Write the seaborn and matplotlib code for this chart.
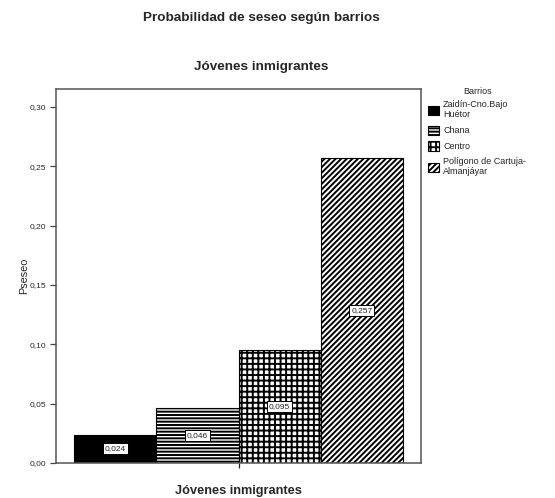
import matplotlib
matplotlib.use("Agg")
import matplotlib.pyplot as plt
from matplotlib.patches import Patch
from matplotlib.ticker import FixedLocator, FuncFormatter
import seaborn as sns
import pandas as pd

# Data
grupo = ["Jóvenes inmigrantes"] * 4
barrios = ["Zaidín-Cno.Bajo\nHuétor", "Chana", "Centro", "Polígono de Cartuja-\nAlmanjáyar"]
pseseo = [0.024, 0.046, 0.095, 0.257]
etiquetas = ["0,024", "0,046", "0,095", "0,257"]
y_ticks = [0.00, 0.05, 0.10, 0.15, 0.20, 0.25, 0.30]

fill_colors = ["black", "white", "white", "white"]
hatches = [None, "-----", "+++", "//////"]

sns.set_theme(style="white")
plt.rcParams["font.family"] = ["Liberation Sans", "DejaVu Sans"]
plt.rcParams["hatch.linewidth"] = 1.4
plt.rcParams["hatch.color"] = "black"

df = pd.DataFrame({"grupo": grupo, "Barrios": barrios, "Pseseo": pseseo})

fig = plt.figure(figsize=(5.55, 4.98), dpi=100)
ax = fig.add_axes([56 / 555, 1 - 463 / 498, (421 - 56) / 555, (463 - 89) / 498])

sns.barplot(data=df, x="grupo", y="Pseseo", hue="Barrios", hue_order=barrios,
            palette=fill_colors, width=0.9, edgecolor="black", linewidth=0.8,
            saturation=1, errorbar=None, legend=False, ax=ax)

for cont, h, lab in zip(ax.containers, hatches, etiquetas):
    for bar in cont:
        if h:
            bar.set_hatch(h)
        x = bar.get_x() + bar.get_width() / 2
        y = bar.get_height() / 2
        ax.text(x, y, lab, ha="center", va="center", fontsize=6,
                bbox=dict(boxstyle="square,pad=0.25", fc="white", ec="black", lw=0.7))

ax.set_xlim(-0.5, 0.5)
ax.set_ylim(0, 0.315)
ax.yaxis.set_major_locator(FixedLocator(y_ticks))
ax.yaxis.set_major_formatter(FuncFormatter(lambda v, p: f"{v:.2f}".replace(".", ",")))
ax.set_xticks([0])
ax.set_xticklabels([""])
ax.tick_params(axis="y", direction="out", length=4.3, width=0.9, color="#444444",
               labelsize=6.0, pad=2.5, left=True)
ax.tick_params(axis="x", direction="out", length=3.5, width=0.9, color="#222222",
               bottom=True, pad=0)

for s in ax.spines.values():
    s.set_color("#555555")
    s.set_linewidth(1.1)

ax.set_ylabel("Pseseo", fontsize=7.8, labelpad=0.5)
ax.set_xlabel("Jóvenes inmigrantes", fontsize=9.2, fontweight="bold", labelpad=12)

fig.text(261 / 555, 1 - 18 / 498, "Probabilidad de seseo según barrios",
         ha="center", va="center", fontsize=9.7, fontweight="bold")
fig.text(261 / 555, 1 - 67 / 498, "Jóvenes inmigrantes",
         ha="center", va="center", fontsize=9.7, fontweight="bold")

handles = [Patch(facecolor=c, edgecolor="black", hatch=h, linewidth=0.8)
           for c, h in zip(fill_colors, hatches)]
leg = fig.legend(handles, barrios, title="Barrios", loc="upper left",
                 bbox_to_anchor=(422 / 555, 1 - 81 / 498), frameon=False,
                 fontsize=6.5, title_fontsize=6.5, handlelength=1.2, handleheight=1.2,
                 handletextpad=0.45, labelspacing=0.7, borderpad=0.2)
leg._legend_box.sep = 3
for t in leg.get_texts():
    t.set_linespacing(1.1)

fig.savefig("out.png", dpi=100)
